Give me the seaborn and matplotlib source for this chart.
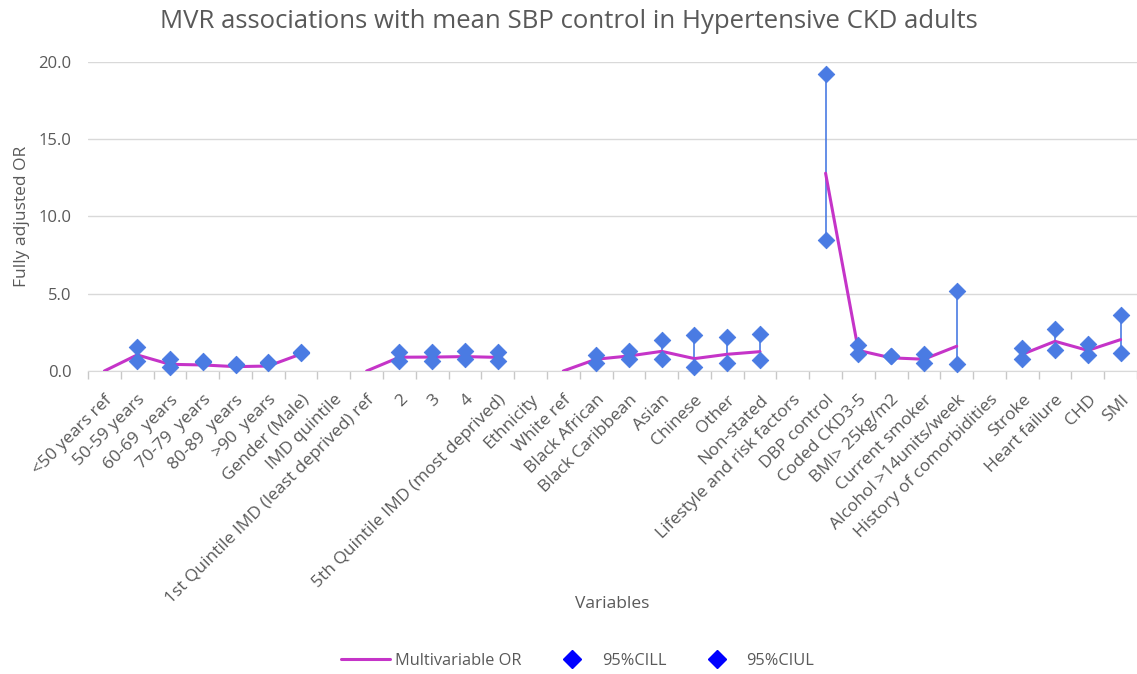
import numpy as np
import pandas as pd
import matplotlib
matplotlib.use("Agg")
import matplotlib.pyplot as plt
from matplotlib.lines import Line2D
import seaborn as sns

variables = [
    "<50 years ref", "50-59 years", "60-69  years", "70-79  years", "80-89  years",
    ">90  years", "Gender (Male)", "IMD quintile",
    "1st Quintile IMD (least deprived) ref", "2", "3", "4",
    "5th Quintile IMD (most deprived)", "Ethnicity", "White ref", "Black African",
    "Black Caribbean", "Asian", "Chinese", "Other", "Non-stated",
    "Lifestyle and risk factors", "DBP control", "Coded CKD3-5", "BMI> 25kg/m2",
    "Current smoker", "Alcohol >14units/week", "History of comorbidities",
    "Stroke", "Heart failure", "CHD", "SMI",
]
nan = np.nan
mv_or = [0.0, 1.04, 0.43, 0.39, 0.28, 0.32, 1.10, nan,
         0.0, 0.89, 0.90, 0.93, 0.88, nan, 0.0, 0.76,
         0.97, 1.27, 0.80, 1.08, 1.25, nan, 12.8, 1.33, 0.85,
         0.76, 1.60, nan, 1.08, 1.92, 1.33, 2.03]
ci_ll = [nan, 0.65, 0.24, 0.55, 0.36, 0.50, 1.15, nan,
         nan, 0.65, 0.65, 0.75, 0.66, nan, nan, 0.50,
         0.80, 0.78, 0.26, 0.52, 0.69, nan, 8.48, 1.10, 0.95,
         0.50, 0.47, nan, 0.76, 1.34, 1.02, 1.15]
ci_ul = [nan, 1.57, 0.76, 0.62, 0.42, 0.56, 1.20, nan,
         nan, 1.21, 1.21, 1.30, 1.20, nan, nan, 1.04,
         1.29, 2.00, 2.35, 2.22, 2.37, nan, 19.24, 1.66, 0.99,
         1.08, 5.20, nan, 1.47, 2.72, 1.73, 3.60]

pos = np.arange(len(variables))
df = pd.DataFrame({"pos": pos, "or": mv_or, "ll": ci_ll, "ul": ci_ul})
# break the line at the empty heading rows
df["seg"] = df["or"].isna().cumsum()

line_col = "#C534C8"
pt_col = "#4A7BE3"
txt_col = "#595959"

sns.set_style("white")
plt.rcParams["font.family"] = ["Open Sans", "DejaVu Sans"]

fig = plt.figure(figsize=(11.37, 6.74), dpi=100)
ax = fig.add_axes([0.0774, 0.4496, 0.9226, 0.4584])

ax.yaxis.grid(True, color="#D9D9D9", lw=1)
ax.set_axisbelow(True)

ci = df.dropna(subset=["ll"])
ax.vlines(ci["pos"], ci["ll"], ci["ul"], color=pt_col, lw=1.2, zorder=2)

sns.lineplot(data=df.dropna(subset=["or"]), x="pos", y="or", units="seg",
             estimator=None, color=line_col, lw=2.2, ax=ax, zorder=3, legend=False)
sns.scatterplot(x=ci["pos"], y=ci["ll"], marker="D", s=70, color=pt_col,
                edgecolor=pt_col, ax=ax, zorder=4, clip_on=False)
sns.scatterplot(x=ci["pos"], y=ci["ul"], marker="D", s=70, color=pt_col,
                edgecolor=pt_col, ax=ax, zorder=4, clip_on=False)

ax.set_xlim(-0.5, len(variables) - 0.5)
ax.set_ylim(0, 20)
ax.set_yticks([0, 5, 10, 15, 20])
ax.set_yticklabels([f"{v:.1f}" for v in [0, 5, 10, 15, 20]])
ax.set_xticks(pos)
ax.set_xticklabels(variables, rotation=45, ha="right", rotation_mode="anchor")
ax.set_xticks(np.arange(len(variables) + 1) - 0.5, minor=True)
ax.xaxis.set_tick_params(which="major", bottom=False, length=0, pad=15,
                         labelsize=12.5, labelcolor=txt_col)
ax.xaxis.set_tick_params(which="minor", bottom=True, direction="out", length=6,
                         width=1, color="#C8C8C8")
ax.tick_params(axis="y", length=0, labelsize=12, labelcolor=txt_col, pad=12)

for s in ["top", "right", "left"]:
    ax.spines[s].set_visible(False)
ax.spines["bottom"].set_color("#D9D9D9")

ax.set_xlabel("Variables", fontsize=12.5, color=txt_col, labelpad=-8)
ax.set_ylabel("Fully adjusted OR", fontsize=12.5, color=txt_col, labelpad=6)
fig.text(0.5, 0.968, "MVR associations with mean SBP control in Hypertensive CKD adults",
         ha="center", va="center", fontsize=18.5, color=txt_col)

handles = [
    Line2D([], [], color=line_col, lw=2.2),
    Line2D([], [], color="blue", marker="D", ls="", markersize=9),
    Line2D([], [], color="blue", marker="D", ls="", markersize=9),
]
fig.legend(handles, ["Multivariable OR", "95%CILL", "95%CIUL"], loc="center",
           bbox_to_anchor=(0.508, 0.02), ncol=3, frameon=False, fontsize=11.8,
           labelcolor=txt_col, columnspacing=1.6, handlelength=3.0, handletextpad=0.3)

fig.savefig("out.png", dpi=100)
